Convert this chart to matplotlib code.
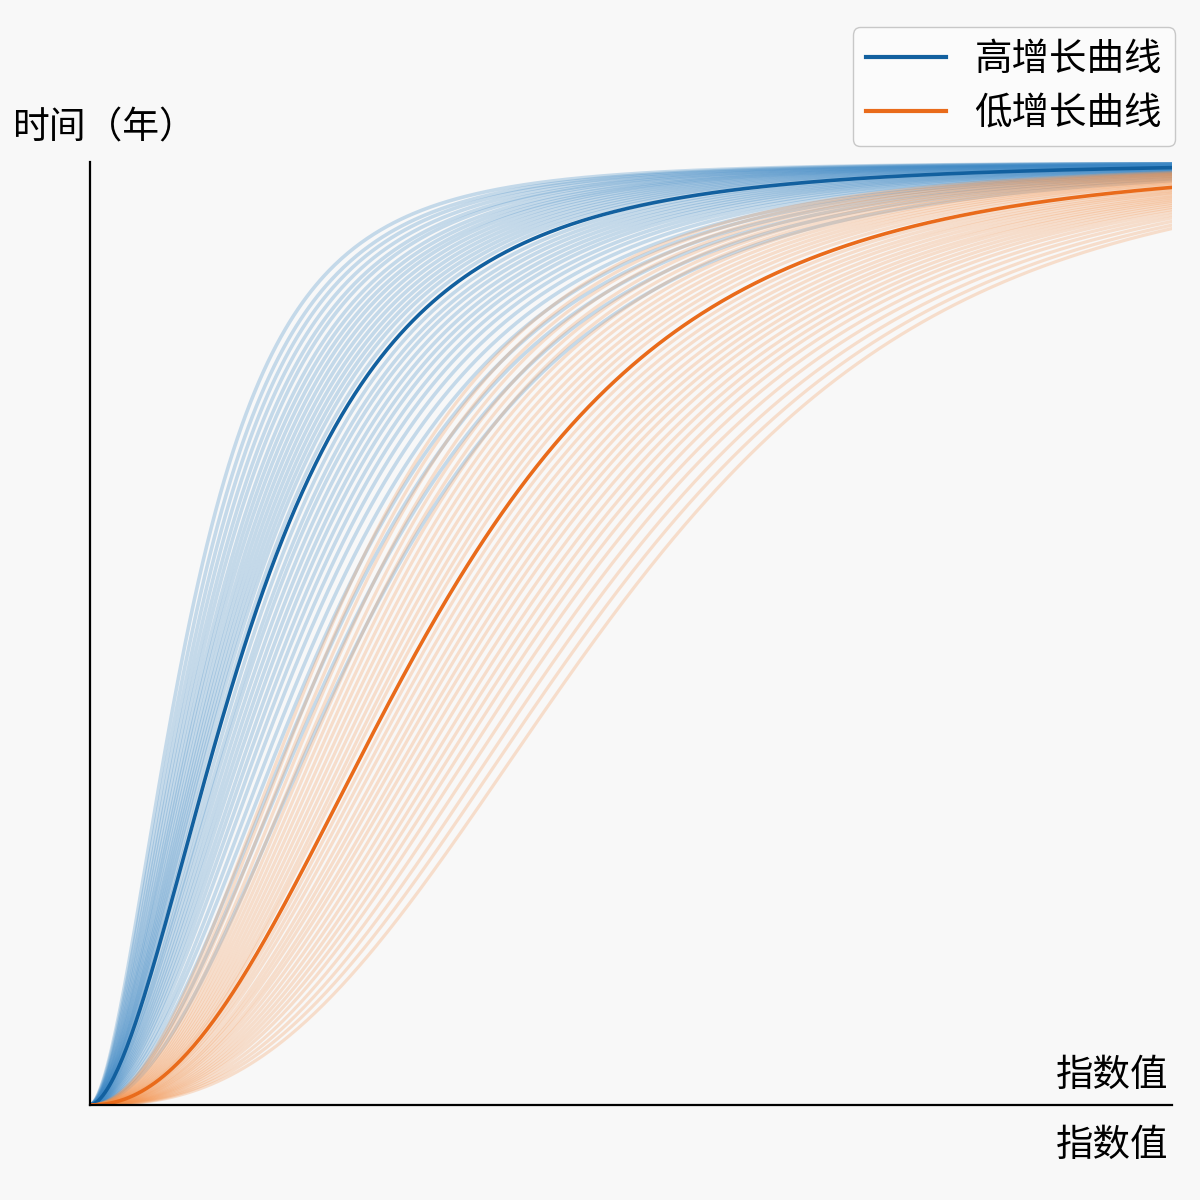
import numpy as np
import matplotlib
matplotlib.use("Agg")
import matplotlib.pyplot as plt

plt.rcParams['font.family'] = ['Noto Sans CJK SC', 'DejaVu Sans']

# ---- data (curve parameters) ----
legend_labels = ["高增长曲线", "低增长曲线"]
x_label = "指数值"
y_label = "时间（年）"

# main curves: scale, shape
high_main_scale = 0.2425
high_main_shape = 1.75
low_main_scale = 0.469
low_main_shape = 2.15

# faint bundle of high-growth curves
high_scales = [0.150, 0.157, 0.163, 0.169, 0.175, 0.180, 0.186, 0.191, 0.196, 0.201,
               0.206, 0.211, 0.216, 0.221, 0.226, 0.231, 0.237, 0.250, 0.257, 0.263,
               0.270, 0.277, 0.284, 0.291, 0.299, 0.307, 0.316, 0.326, 0.337, 0.349,
               0.362, 0.377, 0.395]
high_shapes = [1.72, 1.72, 1.73, 1.73, 1.73, 1.74, 1.74, 1.74, 1.74, 1.75,
               1.75, 1.75, 1.75, 1.75, 1.75, 1.75, 1.76, 1.76, 1.77, 1.77,
               1.78, 1.79, 1.80, 1.81, 1.82, 1.83, 1.84, 1.85, 1.87, 1.88,
               1.90, 1.92, 1.95]

# faint bundle of low-growth curves
low_scales = [0.342, 0.351, 0.360, 0.369, 0.378, 0.386, 0.394, 0.402, 0.410, 0.418,
              0.426, 0.434, 0.442, 0.450, 0.458, 0.478, 0.487, 0.496, 0.505, 0.514,
              0.523, 0.532, 0.541, 0.550, 0.560, 0.570, 0.580, 0.590, 0.601, 0.613,
              0.626, 0.640, 0.654, 0.668]
low_shapes = [2.00, 2.01, 2.02, 2.04, 2.05, 2.06, 2.07, 2.08, 2.09, 2.10,
              2.11, 2.12, 2.13, 2.14, 2.14, 2.16, 2.17, 2.18, 2.20, 2.21,
              2.22, 2.24, 2.25, 2.27, 2.29, 2.31, 2.33, 2.35, 2.37, 2.39,
              2.42, 2.45, 2.48, 2.52]

x = np.linspace(0.0, 1.0, 500)


def growth(xv, scale, shape):
    return 1.0 - (1.0 + (xv / scale) ** shape) ** (-2.0)


fig = plt.figure(figsize=(12, 12), dpi=100, facecolor='#f8f8f8')
ax = fig.add_axes([90 / 1200, 95 / 1200, 1082 / 1200, 943 / 1200])
ax.set_facecolor('none')

faint_blue = '#3a86c4'
faint_orange = '#f4914a'
main_blue = '#12609f'
main_orange = '#e96b1b'

for s, k in zip(high_scales, high_shapes):
    ax.plot(x, growth(x, s, k), color=faint_blue, alpha=0.27, lw=2.6,
            solid_capstyle='round')
ax.plot(x, growth(x, high_main_scale, high_main_shape), color=main_blue, lw=2.6,
        label=legend_labels[0])

for s, k in zip(low_scales, low_shapes):
    ax.plot(x, growth(x, s, k), color=faint_orange, alpha=0.26, lw=2.3,
            solid_capstyle='round')
ax.plot(x, growth(x, low_main_scale, low_main_shape), color=main_orange, lw=2.6,
        label=legend_labels[1])

ax.set_xlim(0, 1)
ax.set_ylim(0, 1)
ax.set_xticks([])
ax.set_yticks([])
for side in ['top', 'right']:
    ax.spines[side].set_visible(False)
for side in ['left', 'bottom']:
    ax.spines[side].set_linewidth(1.6)
    ax.spines[side].set_color('black')

fig.text(12 / 1200, 1 - 128 / 1200, y_label, fontsize=26.5, ha='left', va='center')
fig.text(1168 / 1200, 1 - 1075 / 1200, x_label, fontsize=27, ha='right', va='center')
fig.text(1168 / 1200, 1 - 1145 / 1200, x_label, fontsize=27, ha='right', va='center')

leg = fig.legend(loc='upper right', bbox_to_anchor=(1175 / 1200, 1 - 27 / 1200),
                 fontsize=27, frameon=True, fancybox=True, framealpha=1.0,
                 edgecolor='#c8c8c8', facecolor='#fbfbfb', handlelength=2.15,
                 handletextpad=0.75, labelspacing=0.4, borderpad=0.35,
                 borderaxespad=0.0)
for line in leg.get_lines():
    line.set_linewidth(3.0)

fig.savefig('out.png', dpi=100, facecolor=fig.get_facecolor())
